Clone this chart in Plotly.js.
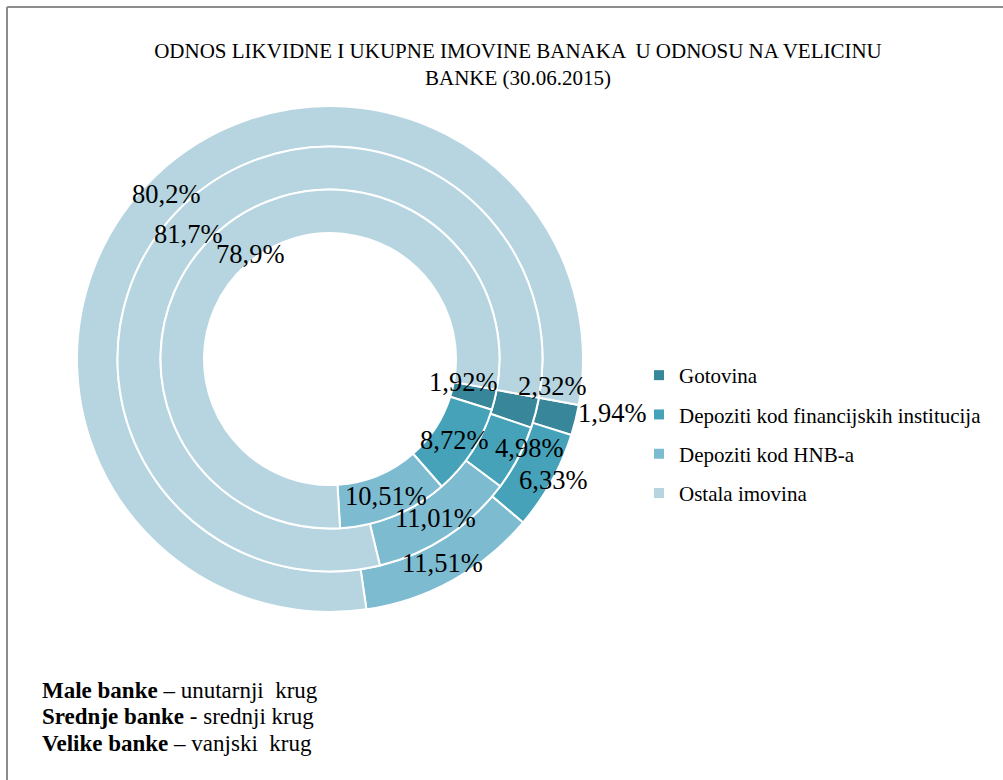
<!DOCTYPE html>
<html>
<head>
<meta charset="utf-8">
<script src="https://cdn.plot.ly/plotly-3.0.1.min.js"></script>
<style>
  html, body { margin: 0; padding: 0; background: #ffffff; }
  #chart { width: 1003px; height: 780px; }
</style>
</head>
<body>
<div id="chart"></div>
<script>
// ---------- DATA ----------
const categories = ['Gotovina', 'Depoziti kod financijskih institucija', 'Depoziti kod HNB-a', 'Ostala imovina'];
const maleBanke    = [1.92, 8.72, 10.51, 78.9];   // unutarnji krug
const srednjeBanke = [2.32, 4.98, 11.01, 81.7];   // srednji krug
const velikeBanke  = [1.94, 6.33, 11.51, 80.2];   // vanjski krug
const chartTitle = 'ODNOS LIKVIDNE I UKUPNE IMOVINE BANAKA  U ODNOSU NA VELICINU<br>BANKE (30.06.2015)';
const noteLines = [
  ['Male banke', ' – unutarnji  krug'],
  ['Srednje banke', ' - srednji krug'],
  ['Velike banke', ' – vanjski  krug']
];

// ---------- STYLE / GEOMETRY ----------
const W = 1003, H = 780;
const colors = ['#37869a', '#45a2b9', '#7dbbd1', '#b6d5e0'];
const serif = 'Liberation Serif, Times New Roman, serif';
const cx = 330, cy = 359;
const startAngle = 100.5;            // degrees clockwise from 12 o'clock
const rings = [                      // inner -> outer
  { values: maleBanke,    rIn: 126,   rOut: 169.5 },
  { values: srednjeBanke, rIn: 169.5, rOut: 212.5 },
  { values: velikeBanke,  rIn: 212.5, rOut: 253 }
];
// Excel-style manual nudges of a few data labels (px, right / down)
const labelNudge = [
  [[-10, -13], [0, 0], [0, 0], [18, 6]],
  [[37, -21], [30, 0], [0, 0], [-3, 6]],
  [[56, -2], [19, 9], [0, 0], [-3, 3]]
];

const fmt = v => String(v).replace('.', ',') + '%';

const traces = [];
const annotations = [];

rings.slice().reverse().forEach(ring => {
  const R = ring.rOut;
  traces.push({
    type: 'pie',
    labels: categories,
    values: ring.values,
    sort: false,
    direction: 'clockwise',
    rotation: startAngle,
    hole: ring.rIn / R,
    domain: { x: [(cx - R) / W, (cx + R) / W], y: [1 - (cy + R) / H, 1 - (cy - R) / H] },
    marker: { colors: colors, line: { color: '#ffffff', width: 2 } },
    textinfo: 'none',
    hoverinfo: 'label+value',
    showlegend: false
  });
});

rings.forEach((ring, ri) => {
  const total = ring.values.reduce((a, b) => a + b, 0);
  let cum = 0;
  const rMid = (ring.rIn + ring.rOut) / 2;
  ring.values.forEach((v, i) => {
    const mid = startAngle + (cum + v / 2) / total * 360;
    cum += v;
    const t = mid * Math.PI / 180;
    const px = cx + rMid * Math.sin(t);
    const py = cy - rMid * Math.cos(t);
    const nd = labelNudge[ri][i];
    annotations.push({
      xref: 'paper', yref: 'paper',
      x: px / W, y: 1 - py / H,
      xanchor: 'center', yanchor: 'middle',
      xshift: nd[0], yshift: -nd[1],
      text: fmt(v), showarrow: false,
      font: { family: serif, size: 26.5, color: '#000000' }
    });
  });
});

noteLines.forEach((ln, i) => {
  annotations.push({
    xref: 'paper', yref: 'paper',
    x: 40 / W, y: 1 - (690 + i * 26.5) / H,
    xanchor: 'left', yanchor: 'middle',
    text: '<b>' + ln[0] + '</b>' + ln[1].replace(/  /g, ' \u00a0'),
    showarrow: false, align: 'left',
    font: { family: serif, size: 23, color: '#000000' }
  });
});

// legend entries
categories.forEach((c, i) => {
  traces.push({
    type: 'scatter', mode: 'markers',
    x: [null], y: [null],
    name: c,
    legendgroup: 'g' + i,
    marker: { symbol: 'square', size: 10, color: colors[i] },
    hoverinfo: 'skip',
    showlegend: true
  });
});

const layout = {
  width: W, height: H,
  margin: { l: 0, r: 0, t: 0, b: 0 },
  paper_bgcolor: '#ffffff',
  plot_bgcolor: 'rgba(0,0,0,0)',
  title: {
    text: chartTitle,
    x: 518 / W, xanchor: 'center',
    y: 1 - 58 / H, yanchor: 'top', yref: 'container',
    font: { family: serif, size: 21, color: '#000000' }
  },
  xaxis: { visible: false, range: [0, 1] },
  yaxis: { visible: false, range: [0, 1] },
  showlegend: true,
  legend: {
    x: 639 / W, xanchor: 'left',
    y: 1 - 355 / H, yanchor: 'top',
    traceorder: 'grouped', tracegroupgap: 9,
    font: { family: serif, size: 21, color: '#000000' },
    bgcolor: 'rgba(0,0,0,0)'
  },
  annotations: annotations,
  shapes: [
    { type: 'line', xref: 'paper', yref: 'paper', x0: 7 / W, x1: 7 / W, y0: -0.05, y1: 1 - 7 / H,
      line: { color: '#8c8c8c', width: 2 } },
    { type: 'line', xref: 'paper', yref: 'paper', x0: 7 / W, x1: 1.05, y0: 1 - 7 / H, y1: 1 - 7 / H,
      line: { color: '#8c8c8c', width: 2 } }
  ]
};

Plotly.newPlot('chart', traces, layout, { displayModeBar: false, staticPlot: true });
</script>
</body>
</html>
